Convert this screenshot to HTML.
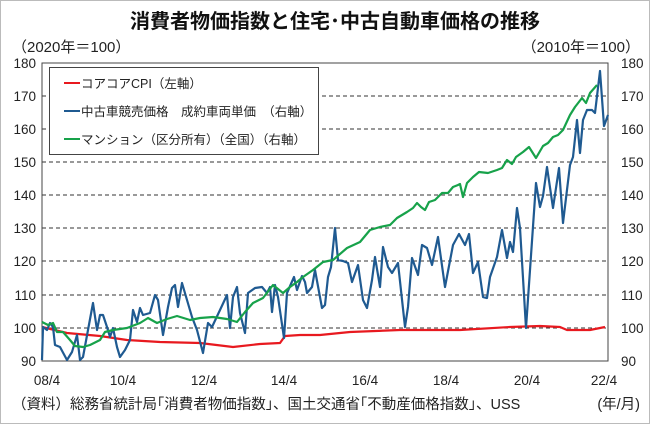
<!DOCTYPE html>
<html><head><meta charset="utf-8"><style>
body{margin:0;background:#fff;}
svg{display:block;font-family:"Liberation Sans","Noto Sans CJK JP",sans-serif;}
</style></head><body>
<svg width="650" height="424" viewBox="0 0 650 424">
<rect x="0.5" y="0.5" width="649" height="423" fill="#fff" stroke="#bbb"/>
<text x="335" y="28" font-size="20" font-weight="bold" text-anchor="middle" fill="#111">消費者物価指数と住宅･中古自動車価格の推移</text>
<text x="12" y="52" font-size="15" fill="#222">（2020年＝100）</text>
<text x="640" y="52" font-size="15" fill="#222" text-anchor="end">（2010年＝100）</text>
<g stroke="#333" stroke-dasharray="4,3" stroke-width="1">
<line x1="42" x2="608" y1="96" y2="96"/><line x1="42" x2="608" y1="129" y2="129"/>
<line x1="42" x2="608" y1="162" y2="162"/><line x1="42" x2="608" y1="195" y2="195"/>
<line x1="42" x2="608" y1="228" y2="228"/><line x1="42" x2="608" y1="261" y2="261"/>
<line x1="42" x2="608" y1="295" y2="295"/><line x1="42" x2="608" y1="328" y2="328"/>
</g>
<rect x="42" y="63" width="566" height="298" fill="none" stroke="#444" stroke-width="1"/>
<g font-size="13.5" fill="#222">
<text x="36" y="68" text-anchor="end">180</text><text x="36" y="101" text-anchor="end">170</text>
<text x="36" y="134" text-anchor="end">160</text><text x="36" y="167" text-anchor="end">150</text>
<text x="36" y="200" text-anchor="end">140</text><text x="36" y="233" text-anchor="end">130</text>
<text x="36" y="266" text-anchor="end">120</text><text x="36" y="300" text-anchor="end">110</text>
<text x="36" y="333" text-anchor="end">100</text><text x="36" y="366" text-anchor="end">90</text>
<text x="621" y="68">180</text><text x="621" y="101">170</text><text x="621" y="134">160</text>
<text x="621" y="167">150</text><text x="621" y="200">140</text><text x="621" y="233">130</text>
<text x="621" y="266">120</text><text x="621" y="300">110</text><text x="621" y="333">100</text>
<text x="621" y="366">90</text>
<text x="47" y="385" text-anchor="middle">08/4</text><text x="123" y="385" text-anchor="middle">10/4</text>
<text x="204" y="385" text-anchor="middle">12/4</text><text x="284" y="385" text-anchor="middle">14/4</text>
<text x="365" y="385" text-anchor="middle">16/4</text><text x="446" y="385" text-anchor="middle">18/4</text>
<text x="527" y="385" text-anchor="middle">20/4</text><text x="604" y="385" text-anchor="middle">22/4</text>
</g>
<text x="12" y="409" font-size="14.5" fill="#222">（資料）総務省統計局｢消費者物価指数｣、国土交通省｢不動産価格指数｣、USS</text>
<text x="640" y="409" font-size="14.5" fill="#222" text-anchor="end">(年/月)</text>
<g fill="none" stroke-width="2.2" stroke-linejoin="round">
<polyline stroke="#e8191f" points="42,327 67,333 100,336 127,340 160,342 200,343 233,347 260,344 280,343 285,336 300,335 320,335 350,332 400,330 460,330 510,327 540,326 560,327 567,330 590,330 605,327"/>
<polyline stroke="#1f5a91" points="42,360 43,327 47,330 50,323 53,327 55,345 60,347 67,360 72,352 77,335 80,360 83,357 88,330 93,303 97,330 100,315 103,315 107,327 110,337 113,328 117,347 120,357 125,350 130,340 133,310 137,322 140,308 143,315 150,313 155,295 158,300 163,335 168,307 172,288 175,285 178,307 182,283 187,300 192,317 197,330 203,353 208,323 212,327 220,310 227,295 230,328 233,297 237,287 240,313 245,333 248,293 255,288 262,287 267,293 270,287 272,312 275,285 278,297 284,338 287,293 294,277 297,290 302,276 305,282 307,293 312,287 315,270 322,308 325,305 328,277 331,267 335,228 338,260 343,261 348,263 352,282 358,265 363,300 367,308 372,280 375,257 380,287 383,247 388,267 392,273 398,263 405,327 408,307 412,258 418,275 422,245 427,248 432,265 438,237 445,287 453,245 459,234 465,245 469,234 473,273 478,262 483,297 487,298 490,277 497,257 502,230 507,258 510,242 513,252 517,208 520,228 526,328 536,183 540,207 543,196 547,167 553,208 559,168 563,223 570,165 573,157 577,120 580,153 583,120 587,110 592,110 595,113 600,71 604,126 608,115"/>
<polyline stroke="#17a24a" points="42,322 48,325 53,323 57,332 63,332 70,340 75,346 83,347 90,345 100,340 105,332 113,330 127,328 140,323 148,318 157,323 167,319 177,316 190,320 200,318 213,317 227,319 237,322 245,312 253,303 263,298 273,285 283,293 290,287 297,282 303,277 313,270 323,262 333,260 347,248 360,242 370,230 380,227 390,225 397,218 407,212 413,208 417,203 421,207 425,210 429,202 435,200 442,193 448,193 453,187 458,185 460,184 463,197 467,183 473,177 479,172 488,173 497,170 502,168 507,160 512,164 516,157 523,152 529,147 536,158 543,146 548,143 553,137 558,135 563,130 570,115 575,107 582,98 586,103 590,93 597,85"/>
</g>
<rect x="49.5" y="67.5" width="269" height="87" fill="#fff" stroke="#444"/>
<g stroke-width="2"><line x1="64" x2="80" y1="83" y2="83" stroke="#e8191f"/>
<line x1="64" x2="80" y1="111" y2="111" stroke="#1f5a91"/>
<line x1="64" x2="80" y1="139" y2="139" stroke="#17a24a"/></g>
<g font-size="12.5" fill="#222">
<text x="81" y="88">コアコアCPI（左軸）</text>
<text x="81" y="116">中古車競売価格　成約車両単価　（右軸）</text>
<text x="81" y="144">マンション（区分所有）（全国）（右軸）</text>
</g>
</svg>
</body></html>
